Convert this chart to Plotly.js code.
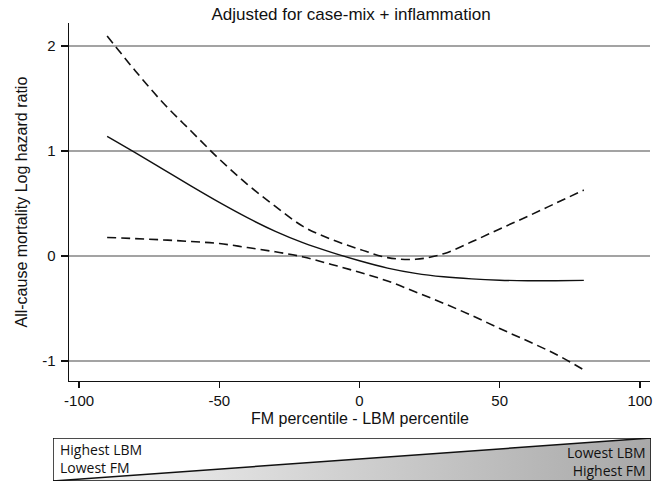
<!DOCTYPE html>
<html>
<head>
<meta charset="utf-8">
<script src="https://cdn.plot.ly/plotly-3.0.1.min.js"></script>
<style>
  html, body { margin: 0; padding: 0; background: #fff; }
  #chart { width: 654px; height: 481px; }
</style>
</head>
<body>
<div id="chart"></div>
<script>
// ---- data ----
const xPct = [-90, -80, -70, -60, -50, -40, -30, -20, -10, 0, 10, 20, 30, 40, 50, 60, 70, 80];
const logHR = [1.14, 0.985, 0.825, 0.665, 0.51, 0.365, 0.235, 0.125, 0.035, -0.045, -0.115, -0.165, -0.198, -0.218, -0.23, -0.235, -0.235, -0.232];
const upperCI = [2.095, 1.765, 1.457, 1.188, 0.923, 0.683, 0.472, 0.28, 0.158, 0.065, -0.015, -0.031, 0.022, 0.135, 0.258, 0.378, 0.503, 0.628];
const lowerCI = [0.177, 0.166, 0.154, 0.138, 0.119, 0.081, 0.04, -0.009, -0.08, -0.155, -0.238, -0.342, -0.45, -0.566, -0.69, -0.81, -0.935, -1.084];
const xTicks = [-100, -50, 0, 50, 100];
const yTicks = [-1, 0, 1, 2];
const titleText = 'Adjusted for case-mix + inflammation';
const xTitle = 'FM percentile - LBM percentile';
const yTitle = 'All-cause mortality Log hazard ratio';
const scaleLeft = ['Highest LBM', 'Lowest FM'];
const scaleRight = ['Lowest LBM', 'Highest FM'];
const wedgeX = [0, 1, 1, 0];
const wedgeY = [0, 1, 0, 0];

const FONT = 'Liberation Sans, Arial, sans-serif';
const BOXFONT = 'Open Sans, Noto Sans, sans-serif';

const traces = [
  { x: xPct, y: upperCI, type: 'scatter', mode: 'lines', xaxis: 'x', yaxis: 'y',
    line: { color: '#111', width: 1.6, dash: '9px,5px', shape: 'spline', smoothing: 1 }, hoverinfo: 'skip' },
  { x: xPct, y: lowerCI, type: 'scatter', mode: 'lines', xaxis: 'x', yaxis: 'y',
    line: { color: '#111', width: 1.6, dash: '9px,5px', shape: 'spline', smoothing: 1 }, hoverinfo: 'skip' },
  { x: xPct, y: logHR, type: 'scatter', mode: 'lines', xaxis: 'x', yaxis: 'y',
    line: { color: '#111', width: 1.4, shape: 'spline', smoothing: 1 }, hoverinfo: 'skip' },
  // gradient wedge of the scale bar
  { x: wedgeX, y: wedgeY, type: 'scatter', mode: 'lines', xaxis: 'x2', yaxis: 'y2',
    fill: 'toself', fillcolor: '#d0d0d0',
    fillgradient: { type: 'horizontal', colorscale: [[0, '#f7f7f7'], [1, '#a8a8a8']] },
    line: { width: 0 }, hoverinfo: 'skip' },
  { x: [0, 1], y: [0, 1], type: 'scatter', mode: 'lines', xaxis: 'x2', yaxis: 'y2',
    line: { color: '#111', width: 1.5 }, hoverinfo: 'skip' }
];

// pixel helpers (paper: x 53..651, y 23..481)
const px = v => (v - 53) / 598;
const py = v => (481 - v) / 458;

const annFont = { family: BOXFONT, size: 14, color: '#111' };
const layout = {
  width: 654, height: 481,
  margin: { l: 53, r: 3, t: 23, b: 0, pad: 0 },
  paper_bgcolor: '#fff', plot_bgcolor: 'rgba(0,0,0,0)',
  showlegend: false,
  font: { family: FONT, color: '#111' },
  title: { text: titleText, font: { family: FONT, size: 17, color: '#111' },
           x: px(351), xref: 'paper', xanchor: 'center', y: 1 - 14 / 481, yref: 'container', yanchor: 'middle' },
  xaxis: {
    domain: [px(69), px(650)], range: [-103.6, 103.6], anchor: 'y',
    tickvals: xTicks, ticktext: xTicks.map(String), ticks: 'outside', ticklen: 6, tickwidth: 1.3, tickcolor: '#111',
    showline: true, linecolor: '#111', linewidth: 1.3, showgrid: false, zeroline: false,
    tickfont: { family: FONT, size: 15, color: '#111' }, fixedrange: true
  },
  yaxis: {
    domain: [py(381), 1], range: [-1.19, 2.219], anchor: 'x',
    tickvals: yTicks, ticktext: yTicks.map(String), ticks: 'outside', ticklen: 7, tickwidth: 1.3, tickcolor: '#111',
    showline: true, linecolor: '#111', linewidth: 1.3, showgrid: true, gridcolor: '#a3a3a3', gridwidth: 1.5,
    zeroline: false, tickfont: { family: FONT, size: 15, color: '#111' }, ticklabelstandoff: 2, fixedrange: true
  },
  xaxis2: { domain: [0, 1], range: [0, 1], anchor: 'y2', visible: false, fixedrange: true },
  yaxis2: { domain: [0, py(438)], range: [0, 1], anchor: 'x2', visible: false, fixedrange: true },
  shapes: [
    { type: 'rect', xref: 'x2', yref: 'y2', x0: 0, x1: 1, y0: 0, y1: 1, layer: 'above',
      line: { color: '#111', width: 1.5 }, fillcolor: 'rgba(0,0,0,0)' }
  ],
  annotations: [
    { text: xTitle, xref: 'paper', yref: 'paper', x: px(359.5), y: py(418), xanchor: 'center', yanchor: 'middle',
      showarrow: false, font: { family: FONT, size: 16, color: '#111' } },
    { text: yTitle, xref: 'paper', yref: 'paper', x: px(21.5), y: py(202), xanchor: 'center', yanchor: 'middle',
      textangle: -90, showarrow: false, font: { family: FONT, size: 16, color: '#111' } },
    { text: scaleLeft.join('<br>'), xref: 'paper', yref: 'paper', x: px(58), y: py(458), xanchor: 'left', yanchor: 'middle',
      align: 'left', showarrow: false, font: annFont },
    { text: scaleRight.join('<br>'), xref: 'paper', yref: 'paper', x: px(648), y: py(461), xanchor: 'right', yanchor: 'middle',
      align: 'right', showarrow: false, font: annFont }
  ]
};

Plotly.newPlot('chart', traces, layout, { staticPlot: true, displayModeBar: false });
</script>
</body>
</html>
